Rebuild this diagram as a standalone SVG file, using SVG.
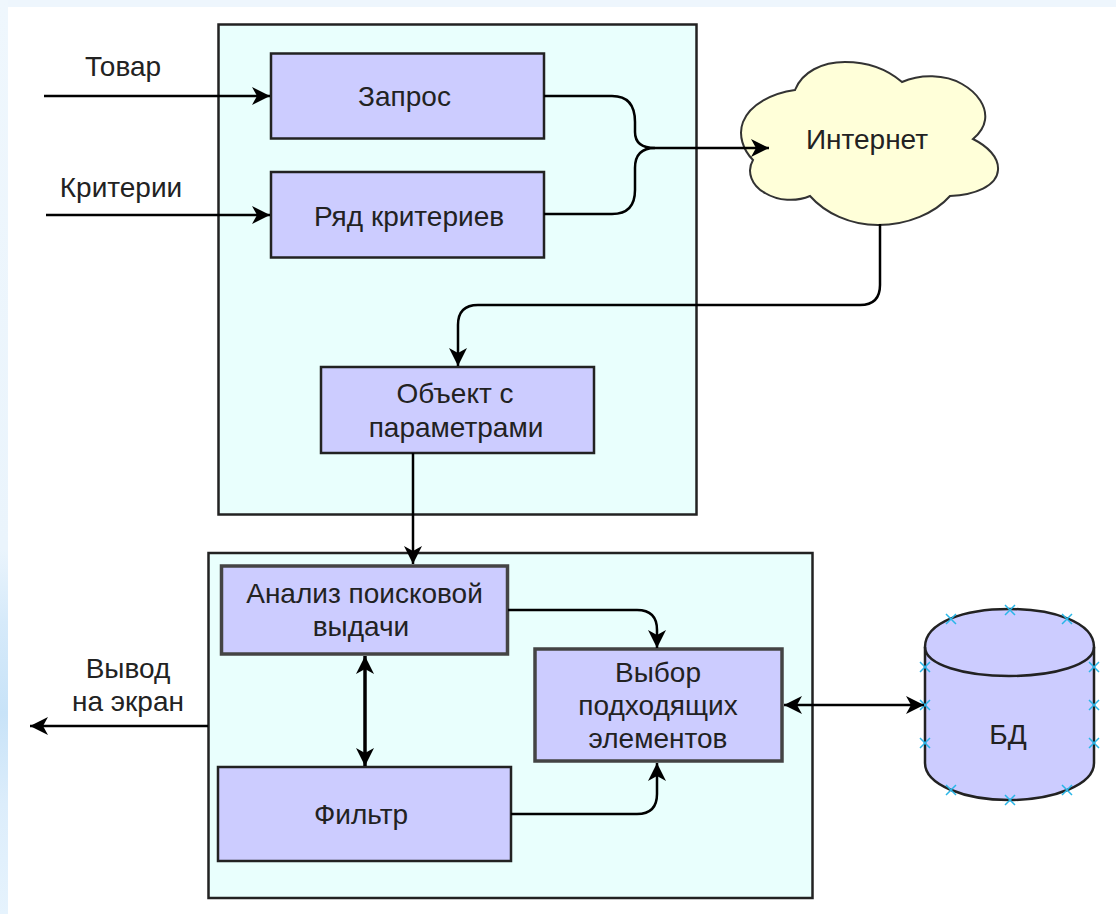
<svg xmlns="http://www.w3.org/2000/svg" width="1116" height="914" viewBox="0 0 1116 914">
<style>
.t{font-family:"Liberation Sans",Arial,sans-serif;font-size:28px;fill:#222;text-anchor:middle}
.c{fill:#e9fffd;stroke:#222;stroke-width:2.5}
.b{fill:#ccccff;stroke:#222;stroke-width:2.5}
.g{fill:#ccccff;stroke:#444;stroke-width:3.5}
.l{fill:none;stroke:#000;stroke-width:2.500}
.x{fill:none;stroke:#29b6e8;stroke-width:1.5}
</style>
<defs>
<linearGradient id="edge" x1="0" y1="0" x2="0" y2="1"><stop offset="0" stop-color="#eff7fd"/><stop offset="0.6" stop-color="#eaf4fc"/><stop offset="0.68" stop-color="#d6eafa"/><stop offset="0.78" stop-color="#c8e3f8"/><stop offset="0.88" stop-color="#dcedfb"/><stop offset="1" stop-color="#e6f3fd"/></linearGradient>
<marker id="a" markerUnits="userSpaceOnUse" markerWidth="22" markerHeight="22" viewBox="0 0 22 22" refX="19" refY="11" orient="auto-start-reverse"><path d="M1 2L19 11L1 20L6 11Z" fill="#000"/></marker>
<path id="cr" d="M-5 -5L5 5M-5 5L5 -5"/>
</defs>
<rect width="1116" height="914" fill="#eef6fd"/>
<rect width="8" height="914" fill="url(#edge)"/>
<rect x="8" y="7" width="1108" height="907" fill="#fff"/>
<g id="container-top"><rect class="c" x="218.500" y="24.500" width="478" height="490"/></g>
<g id="container-bottom"><rect class="c" x="208.500" y="553" width="604" height="345"/></g>
<g id="zapros"><rect class="b" x="271" y="53.500" width="273" height="85"/><text class="t" x="404.500" y="106">Запрос</text></g>
<g id="kriterii"><rect class="b" x="271" y="172" width="273" height="85.500"/><text class="t" x="409" y="226">Ряд критериев</text></g>
<g id="internet"><path d="M795 90C802 72 822 62 845 62C868 62 888 70 902 82C920 74 945 74 962 84C978 93 987 107 985 120C984 127 979 134 973 139C987 146 999 157 998 170C997 186 975 195 950 196C935 213 908 225 878 225C850 225 825 213 810 196C796 202 778 201 765 193C752 186 746 172 753 160C743 150 738 135 743 122C750 104 773 93 795 90Z" fill="#ffffd9" stroke="#333" stroke-width="2"/><text class="t" x="867" y="149">Интернет</text></g>
<g id="obekt"><rect class="b" x="321" y="367" width="273" height="86"/><text class="t"><tspan x="455" y="403">Объект с</tspan><tspan x="456" y="437">параметрами</tspan></text></g>
<g id="analiz"><rect class="g" x="221.500" y="566" width="286" height="88"/><text class="t"><tspan x="364.500" y="603">Анализ поисковой</tspan><tspan x="361" y="636">выдачи</tspan></text></g>
<g id="vybor"><rect class="g" x="535" y="649" width="247" height="112"/><text class="t"><tspan x="658" y="682">Выбор</tspan><tspan x="658" y="715">подходящих</tspan><tspan x="658" y="748">элементов</tspan></text></g>
<g id="filtr"><rect class="b" x="218" y="767" width="293" height="94"/><text class="t" x="361" y="824">Фильтр</text></g>
<g id="bd"><path class="b" d="M925 647C925 622 965 609 1009 609C1053 609 1094 622 1094 647V763C1094 785 1053 800 1009 800C965 800 925 785 925 763Z"/><path fill="none" stroke="#222" stroke-width="2.500" d="M925 647C925 665 965 676 1009 676C1053 676 1094 665 1094 647"/><text class="t" x="1008" y="744">БД</text>
<g class="x"><use href="#cr" x="1010" y="610"/><use href="#cr" x="951" y="619"/><use href="#cr" x="1067" y="619"/><use href="#cr" x="925" y="667"/><use href="#cr" x="1094" y="667"/><use href="#cr" x="925" y="705"/><use href="#cr" x="1094" y="705"/><use href="#cr" x="925" y="743"/><use href="#cr" x="1094" y="743"/><use href="#cr" x="951" y="790"/><use href="#cr" x="1067" y="790"/><use href="#cr" x="1010" y="800"/></g></g>
<g id="labels"><text class="t" x="123" y="76">Товар</text><text class="t" x="121" y="197">Критерии</text><text class="t"><tspan x="128" y="678">Вывод</tspan><tspan x="128" y="711">на экран</tspan></text></g>
<g id="connectors">
<path class="l" d="M44 96H270" marker-end="url(#a)"/>
<path class="l" d="M46 215H270" marker-end="url(#a)"/>
<path class="l" d="M544 96H612Q635 96 635 122V132Q635 148 655 148H769" marker-end="url(#a)"/>
<path class="l" d="M544 214H612Q635 214 635 190V168Q635 148 655 148"/>
<path class="l" d="M880 224V285Q880 305 860 305H478Q458 305 458 325V366" marker-end="url(#a)"/>
<path class="l" d="M413 453V564" marker-end="url(#a)"/>
<path class="l" d="M508 610H637Q657 610 657 630V648" marker-end="url(#a)"/>
<path class="l" d="M511 814H637Q657 814 657 794V763" marker-end="url(#a)"/>
<path class="l" style="stroke-width:3.500" d="M365 656V766" marker-start="url(#a)" marker-end="url(#a)"/>
<path class="l" d="M784 705H924" marker-start="url(#a)" marker-end="url(#a)"/>
<path class="l" d="M208 726H30" marker-end="url(#a)"/>
</g>
</svg>
